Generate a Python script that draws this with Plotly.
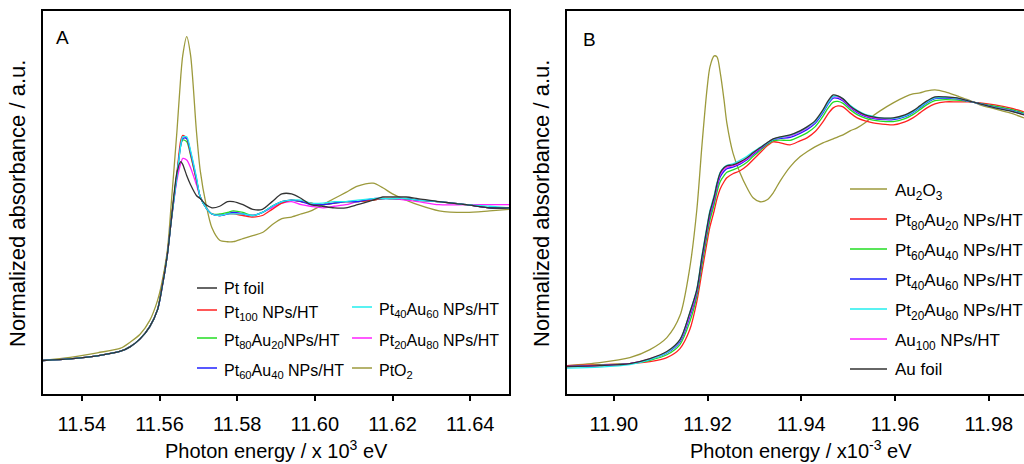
import plotly.graph_objects as go

# ---------------- Panel A : Pt L3 edge ----------------
energy_A = [11.530, 11.537, 11.544, 11.550, 11.5525, 11.555, 11.5575, 11.5595, 11.5605, 11.562,
            11.563, 11.5645, 11.5655, 11.566, 11.567, 11.568, 11.5695, 11.5705, 11.572, 11.5735,
            11.5755, 11.5775, 11.579, 11.5815, 11.584, 11.5865, 11.589, 11.5915, 11.594, 11.5965,
            11.599, 11.602, 11.605, 11.608, 11.611, 11.615, 11.6175, 11.620, 11.6235, 11.6265,
            11.632, 11.639, 11.645, 11.650]

pt_foil = [0.00, 0.01, 0.03, 0.06, 0.09, 0.14, 0.22, 0.33, 0.45, 0.68,
           0.90, 1.22, 1.29, 1.27, 1.20, 1.14, 1.07, 1.05, 1.01, 0.99,
           1.00, 1.03, 1.03, 1.01, 0.98, 0.98, 1.03, 1.08, 1.08, 1.05,
           1.01, 1.00, 0.99, 0.99, 1.01, 1.04, 1.06, 1.06, 1.06, 1.05,
           1.03, 1.01, 0.99, 0.99]
pt100 = [0.00, 0.01, 0.03, 0.06, 0.09, 0.14, 0.22, 0.33, 0.46, 0.69,
         0.91, 1.22, 1.43, 1.46, 1.44, 1.34, 1.17, 1.06, 0.99, 0.95,
         0.94, 0.95, 0.95, 0.94, 0.93, 0.94, 0.98, 1.02, 1.04, 1.03,
         1.02, 1.01, 1.02, 1.03, 1.03, 1.04, 1.05, 1.05, 1.05, 1.04,
         1.03, 1.01, 0.99, 0.99]
pt80au20 = [0.00, 0.01, 0.03, 0.06, 0.09, 0.14, 0.22, 0.33, 0.46, 0.69,
            0.91, 1.21, 1.40, 1.43, 1.42, 1.33, 1.17, 1.06, 0.99, 0.95,
            0.95, 0.96, 0.97, 0.96, 0.94, 0.96, 1.00, 1.03, 1.04, 1.03,
            1.02, 1.01, 1.02, 1.03, 1.03, 1.04, 1.05, 1.05, 1.05, 1.04,
            1.03, 1.01, 0.99, 0.99]
pt60au40 = [0.00, 0.01, 0.03, 0.06, 0.09, 0.14, 0.22, 0.33, 0.45, 0.68,
            0.90, 1.20, 1.40, 1.44, 1.44, 1.35, 1.18, 1.06, 0.99, 0.95,
            0.94, 0.95, 0.96, 0.95, 0.94, 0.96, 1.00, 1.03, 1.04, 1.03,
            1.01, 1.01, 1.02, 1.03, 1.03, 1.05, 1.05, 1.05, 1.05, 1.04,
            1.03, 1.01, 0.99, 0.99]
pt40au60 = [0.00, 0.01, 0.03, 0.06, 0.09, 0.14, 0.22, 0.33, 0.45, 0.68,
            0.90, 1.20, 1.40, 1.45, 1.45, 1.36, 1.19, 1.06, 0.99, 0.95,
            0.94, 0.95, 0.95, 0.95, 0.94, 0.96, 1.00, 1.03, 1.04, 1.04,
            1.02, 1.02, 1.03, 1.03, 1.04, 1.05, 1.05, 1.05, 1.05, 1.04,
            1.03, 1.01, 1.00, 0.99]
pt20au80 = [0.00, 0.01, 0.03, 0.06, 0.09, 0.14, 0.22, 0.33, 0.45, 0.68,
            0.90, 1.17, 1.28, 1.31, 1.30, 1.25, 1.14, 1.06, 0.99, 0.95,
            0.94, 0.95, 0.96, 0.95, 0.94, 0.96, 0.99, 1.02, 1.03, 1.01,
            1.00, 0.99, 1.00, 1.01, 1.03, 1.04, 1.05, 1.05, 1.04, 1.03,
            1.01, 1.01, 1.01, 1.01]
pto2 = [0.00, 0.02, 0.05, 0.08, 0.12, 0.17, 0.26, 0.39, 0.49, 0.71,
        1.01, 1.49, 1.85, 1.98, 2.10, 1.98, 1.49, 1.23, 1.01, 0.86,
        0.78, 0.77, 0.77, 0.79, 0.81, 0.83, 0.88, 0.92, 0.93, 0.95,
        0.97, 1.01, 1.05, 1.09, 1.13, 1.15, 1.12, 1.08, 1.04, 1.01,
        0.97, 0.96, 0.97, 0.98]

ticks_A = [11.54, 11.56, 11.58, 11.60, 11.62, 11.64]

# ---------------- Panel B : Au L3 edge ----------------
energy_B = [11.8900, 11.8970, 11.9034, 11.9077, 11.9113, 11.9141, 11.9162, 11.9177, 11.9188, 11.9199,
            11.9205, 11.9214, 11.9220, 11.9227, 11.9235, 11.9241, 11.9254, 11.9269, 11.9284, 11.9297,
            11.9312, 11.9327, 11.9340, 11.9355, 11.9376, 11.9397, 11.9412, 11.9429, 11.9446, 11.9457,
            11.9468, 11.9478, 11.9489, 11.9504, 11.9519, 11.9536, 11.9553, 11.9568, 11.9596, 11.9621,
            11.9638, 11.9653, 11.9668, 11.9685, 11.9707, 11.9732, 11.9756, 11.9781, 11.9813, 11.9845,
            11.9875]

au2o3 = [0.004, 0.016, 0.036, 0.068, 0.116, 0.204, 0.396, 0.628, 0.888, 1.116,
         1.200, 1.244, 1.240, 1.176, 1.068, 0.976, 0.856, 0.776, 0.716, 0.676,
         0.660, 0.668, 0.696, 0.744, 0.800, 0.840, 0.860, 0.880, 0.896, 0.904,
         0.912, 0.920, 0.928, 0.944, 0.956, 0.976, 1.004, 1.024, 1.056, 1.080,
         1.092, 1.096, 1.104, 1.108, 1.100, 1.084, 1.068, 1.048, 1.032, 1.016,
         0.996]
b_pt80au20 = [0.004, 0.008, 0.012, 0.020, 0.036, 0.072, 0.148, 0.260, 0.380, 0.500,
              0.560, 0.624, 0.672, 0.712, 0.740, 0.756, 0.772, 0.784, 0.804, 0.828,
              0.856, 0.884, 0.900, 0.896, 0.888, 0.904, 0.916, 0.940, 0.980, 1.012,
              1.036, 1.044, 1.040, 1.016, 0.996, 0.984, 0.976, 0.972, 0.968, 0.980,
              0.996, 1.016, 1.036, 1.052, 1.060, 1.060, 1.060, 1.056, 1.048, 1.036,
              1.020]
b_pt60au40 = [0.000, 0.006, 0.012, 0.025, 0.047, 0.088, 0.179, 0.282, 0.407, 0.527,
              0.587, 0.649, 0.699, 0.741, 0.765, 0.778, 0.788, 0.800, 0.818, 0.841,
              0.865, 0.889, 0.905, 0.907, 0.906, 0.922, 0.936, 0.960, 1.002, 1.035,
              1.059, 1.062, 1.054, 1.029, 1.009, 0.995, 0.987, 0.983, 0.981, 0.993,
              1.009, 1.029, 1.049, 1.065, 1.069, 1.067, 1.062, 1.054, 1.043, 1.031,
              1.015]
b_pt40au60 = [0.001, 0.005, 0.012, 0.029, 0.054, 0.099, 0.199, 0.296, 0.425, 0.545,
              0.605, 0.666, 0.717, 0.760, 0.782, 0.792, 0.799, 0.811, 0.828, 0.849,
              0.871, 0.893, 0.909, 0.914, 0.918, 0.934, 0.949, 0.973, 1.016, 1.051,
              1.075, 1.074, 1.064, 1.037, 1.017, 1.002, 0.994, 0.990, 0.989, 1.001,
              1.017, 1.037, 1.057, 1.073, 1.075, 1.072, 1.063, 1.053, 1.039, 1.027,
              1.011]
b_pt20au80 = [-0.006, -0.002, 0.008, 0.028, 0.056, 0.106, 0.216, 0.310, 0.445, 0.565,
              0.625, 0.686, 0.736, 0.778, 0.798, 0.806, 0.812, 0.826, 0.842, 0.860,
              0.878, 0.896, 0.910, 0.918, 0.926, 0.942, 0.958, 0.980, 1.022, 1.056,
              1.082, 1.082, 1.072, 1.046, 1.026, 1.010, 1.002, 0.996, 0.994, 1.004,
              1.020, 1.040, 1.060, 1.076, 1.078, 1.074, 1.064, 1.052, 1.037, 1.025,
              1.010]
au100 = [0.000, 0.004, 0.012, 0.031, 0.057, 0.104, 0.207, 0.302, 0.433, 0.553,
         0.613, 0.673, 0.725, 0.769, 0.790, 0.798, 0.804, 0.816, 0.832, 0.853,
         0.874, 0.895, 0.911, 0.917, 0.923, 0.939, 0.955, 0.979, 1.022, 1.057,
         1.080, 1.079, 1.068, 1.041, 1.021, 1.005, 0.997, 0.993, 0.993, 1.005,
         1.021, 1.041, 1.061, 1.077, 1.078, 1.074, 1.064, 1.052, 1.037, 1.025,
         1.009]
au_foil = [0.000, 0.004, 0.012, 0.032, 0.060, 0.108, 0.216, 0.308, 0.440, 0.560,
           0.620, 0.680, 0.732, 0.776, 0.796, 0.804, 0.808, 0.820, 0.836, 0.856,
           0.876, 0.896, 0.912, 0.920, 0.928, 0.944, 0.960, 0.984, 1.028, 1.064,
           1.088, 1.084, 1.072, 1.044, 1.024, 1.008, 1.000, 0.996, 0.996, 1.008,
           1.024, 1.044, 1.064, 1.080, 1.080, 1.076, 1.064, 1.052, 1.036, 1.024,
           1.008]

ticks_B = [11.90, 11.92, 11.94, 11.96, 11.98]

# ---------------- styling ----------------
W, H = 1024, 464
FONT = "Liberation Sans, Arial, sans-serif"
C_BLACK = "#333333"
C_RED = "#ff2020"
C_GREEN = "#22dd22"
C_BLUE = "#2020ff"
C_CYAN = "#22eeee"
C_MAG = "#ff22ff"
C_OLIVE = "#9c9a3c"
LW = 1.3

def px(x):
    return x / W

def py(y):
    return 1 - y / H

seriesA = [
    ("PtO<sub>2</sub>", pto2, C_OLIVE),
    ("Pt<sub>20</sub>Au<sub>80</sub> NPs/HT", pt20au80, C_MAG),
    ("Pt<sub>80</sub>Au<sub>20</sub>NPs/HT", pt80au20, C_GREEN),
    ("Pt<sub>100</sub> NPs/HT", pt100, C_RED),
    ("Pt<sub>60</sub>Au<sub>40</sub> NPs/HT", pt60au40, C_BLUE),
    ("Pt<sub>40</sub>Au<sub>60</sub> NPs/HT", pt40au60, C_CYAN),
    ("Pt foil", pt_foil, C_BLACK),
]
seriesB = [
    ("Au<sub>2</sub>O<sub>3</sub>", au2o3, C_OLIVE),
    ("Pt<sub>80</sub>Au<sub>20</sub> NPs/HT", b_pt80au20, C_RED),
    ("Pt<sub>60</sub>Au<sub>40</sub> NPs/HT", b_pt60au40, C_GREEN),
    ("Pt<sub>40</sub>Au<sub>60</sub> NPs/HT", b_pt40au60, C_BLUE),
    ("Au<sub>100</sub> NPs/HT", au100, C_MAG),
    ("Pt<sub>20</sub>Au<sub>80</sub> NPs/HT", b_pt20au80, C_CYAN),
    ("Au foil", au_foil, C_BLACK),
]

fig = go.Figure()
for name, ys, col in seriesA:
    fig.add_trace(go.Scatter(x=energy_A, y=ys, mode="lines", name=name,
                             line=dict(color=col, width=LW, shape="spline", smoothing=0.8),
                             xaxis="x", yaxis="y", showlegend=False))
for name, ys, col in seriesB:
    fig.add_trace(go.Scatter(x=energy_B, y=ys, mode="lines", name=name,
                             line=dict(color=col, width=LW, shape="spline", smoothing=0.8),
                             xaxis="x2", yaxis="y2", showlegend=False))

ydom = [py(393.5), py(11)]
axis_common = dict(showgrid=False, zeroline=False, showline=True, linecolor="black",
                   linewidth=1.5, automargin=False)
fig.update_layout(
    width=W, height=H,
    margin=dict(l=0, r=0, t=0, b=0),
    paper_bgcolor="white", plot_bgcolor="white",
    font=dict(family=FONT, color="black", size=16),
    xaxis=dict(domain=[px(43), px(509)], range=[11.53, 11.65], tickvals=ticks_A,
               ticktext=[f"{t:.2f}" for t in ticks_A], ticks="outside", ticklen=6,
               tickwidth=1.5, tickcolor="black", mirror=True, anchor="y",
               tickfont=dict(size=20, family=FONT, color="black"), ticklabelstandoff=6,
               **axis_common),
    yaxis=dict(domain=ydom, range=[-0.214, 2.266], showticklabels=False, ticks="",
               mirror=True, anchor="x", **axis_common),
    xaxis2=dict(domain=[px(567), 1.0], range=[11.89, 11.9875], tickvals=ticks_B,
                ticktext=[f"{t:.2f}" for t in ticks_B], ticks="outside", ticklen=6,
                tickwidth=1.5, tickcolor="black", mirror=True, anchor="y2",
                tickfont=dict(size=20, family=FONT, color="black"), ticklabelstandoff=6,
                **axis_common),
    yaxis2=dict(domain=ydom, range=[-0.108, 1.424], showticklabels=False, ticks="",
                mirror=False, anchor="x2", **axis_common),
)

annotations = []
shapes = []

def add_text(x, y, text, size, xanchor="left", yanchor="middle", angle=0):
    annotations.append(dict(x=px(x), y=py(y), xref="paper", yref="paper", text=text,
                            showarrow=False, xanchor=xanchor, yanchor=yanchor,
                            textangle=angle, font=dict(size=size, family=FONT, color="black")))

# axis titles
add_text(276, 449, "Photon energy / x 10<sup>3</sup> eV", 20, xanchor="center")
add_text(801, 449, "Photon energy / x10<sup>-3</sup> eV", 20, xanchor="center")
add_text(17, 204, "Normalized absorbance / a.u.", 22, xanchor="center", angle=-90)
add_text(541, 204, "Normalized absorbance / a.u.", 22, xanchor="center", angle=-90)
# panel labels
add_text(54, 37, "A", 19)
add_text(581, 39, "B", 19)

# legend A (two columns)
legA = [
    (197, 217, 222, 288, "Pt foil", C_BLACK),
    (197, 217, 222, 310, "Pt<sub>100</sub> NPs/HT", C_RED),
    (197, 217, 222, 338, "Pt<sub>80</sub>Au<sub>20</sub>NPs/HT", C_GREEN),
    (197, 217, 222, 368, "Pt<sub>60</sub>Au<sub>40</sub> NPs/HT", C_BLUE),
    (352, 372, 377, 307, "Pt<sub>40</sub>Au<sub>60</sub> NPs/HT", C_CYAN),
    (352, 372, 377, 338, "Pt<sub>20</sub>Au<sub>80</sub> NPs/HT", C_MAG),
    (352, 372, 377, 368, "PtO<sub>2</sub>", C_OLIVE),
]
legB = [
    (850, 887, 893, 189, "Au<sub>2</sub>O<sub>3</sub>", C_OLIVE),
    (850, 887, 893, 219, "Pt<sub>80</sub>Au<sub>20</sub> NPs/HT", C_RED),
    (850, 887, 893, 249, "Pt<sub>60</sub>Au<sub>40</sub> NPs/HT", C_GREEN),
    (850, 887, 893, 279, "Pt<sub>40</sub>Au<sub>60</sub> NPs/HT", C_BLUE),
    (850, 887, 893, 309, "Pt<sub>20</sub>Au<sub>80</sub> NPs/HT", C_CYAN),
    (850, 887, 893, 339, "Au<sub>100</sub> NPs/HT", C_MAG),
    (850, 887, 893, 369, "Au foil", C_BLACK),
]
for items, size in ((legA, 16), (legB, 17)):
    for x0, x1, tx, y, text, col in items:
        shapes.append(dict(type="line", xref="paper", yref="paper", x0=px(x0), x1=px(x1),
                           y0=py(y), y1=py(y), line=dict(color=col, width=1.5)))
        off = 3 if "<sub>" in text else 0
        add_text(tx, y + off, text, size)

fig.update_layout(annotations=annotations, shapes=shapes)
fig.write_html("out.html")
